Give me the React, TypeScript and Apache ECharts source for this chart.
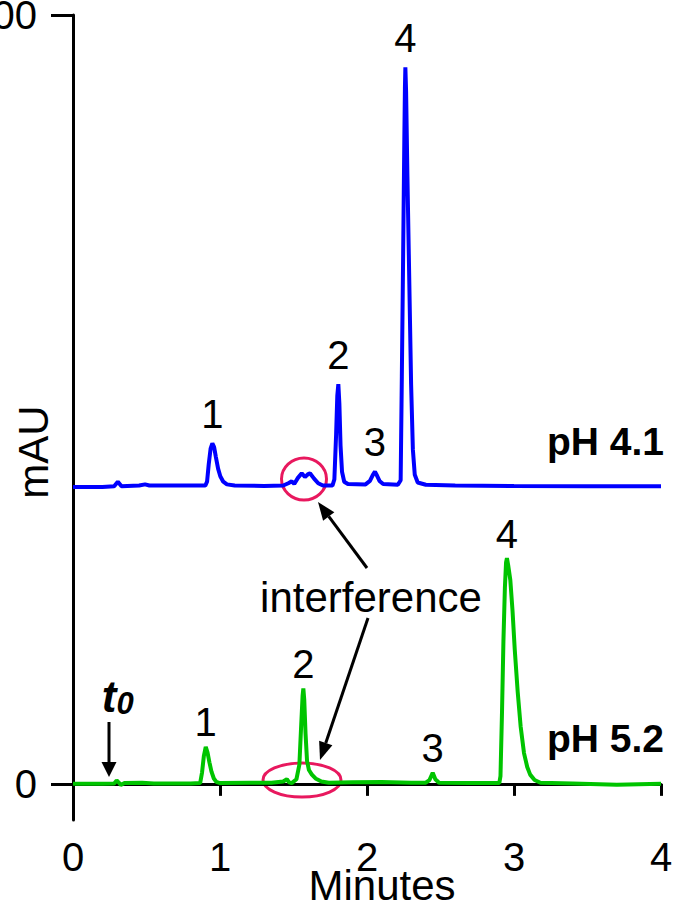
import React, { useEffect, useRef } from "react";
import * as echarts from "echarts";

// Chromatogram traces: [minutes, mAU]
const ph41Trace: [number, number][] = [
  [0.0, 38.6], [0.2, 38.6], [0.28, 38.7], [0.305, 39.3], [0.33, 38.7],
  [0.45, 38.8], [0.49, 38.95], [0.52, 38.8], [0.7, 38.8], [0.9, 38.8],
  [0.912, 39.3], [0.923, 41.5], [0.936, 43.6], [0.948, 44.3], [0.96, 43.8],
  [0.972, 42.5], [0.987, 41.0], [1.002, 40.0], [1.022, 39.3], [1.047, 38.95],
  [1.1, 38.8], [1.3, 38.75], [1.43, 38.8], [1.465, 39.1], [1.488, 39.35],
  [1.505, 39.0], [1.53, 39.8], [1.556, 40.4], [1.578, 39.9], [1.6, 40.3],
  [1.612, 40.4], [1.64, 39.7], [1.668, 39.1], [1.7, 38.8], [1.765, 38.8],
  [1.778, 39.6], [1.79, 45.5], [1.798, 50.5], [1.805, 52.0], [1.812, 49.5],
  [1.82, 44.0], [1.83, 40.6], [1.845, 39.3], [1.87, 39.0], [1.99, 38.95],
  [2.02, 39.4], [2.04, 40.2], [2.054, 40.6], [2.068, 40.1], [2.085, 39.4],
  [2.11, 39.0], [2.21, 38.9], [2.229, 39.5], [2.237, 53.0], [2.246, 69.0],
  [2.254, 84.0], [2.258, 90.5], [2.261, 93.2], [2.266, 90.0], [2.275, 79.0],
  [2.288, 65.0], [2.3, 52.0], [2.312, 43.5], [2.325, 40.2], [2.345, 39.2],
  [2.4, 38.9], [2.6, 38.8], [3.0, 38.75], [3.5, 38.7], [4.0, 38.7],
];

const ph52Trace: [number, number][] = [
  [0.0, 0.0], [0.2, 0.0], [0.28, 0.05], [0.297, 0.45], [0.31, 0.2],
  [0.325, -0.15], [0.35, 0.1], [0.47, 0.15], [0.55, 0.05], [0.8, 0.05],
  [0.865, 0.1], [0.878, 1.5], [0.89, 3.6], [0.903, 4.8], [0.915, 4.1],
  [0.928, 2.8], [0.942, 1.6], [0.958, 0.7], [0.975, 0.25], [1.0, 0.1],
  [1.2, 0.15], [1.35, 0.15], [1.43, 0.3], [1.455, 0.6], [1.47, 0.2],
  [1.488, 0.1], [1.52, 0.6], [1.54, 2.5], [1.552, 7.5], [1.562, 11.5],
  [1.567, 12.4], [1.573, 11.0], [1.582, 6.5], [1.592, 3.0], [1.605, 1.8],
  [1.625, 1.2], [1.65, 0.7], [1.69, 0.3], [1.74, 0.15], [1.9, 0.2],
  [2.1, 0.25], [2.3, 0.15], [2.4, 0.15], [2.425, 0.5], [2.447, 1.45],
  [2.465, 0.6], [2.49, 0.15], [2.7, 0.1], [2.9, 0.1], [2.908, 1.0],
  [2.918, 9.0], [2.928, 18.5], [2.938, 25.5], [2.946, 28.8], [2.952, 29.35],
  [2.96, 28.5], [2.975, 26.5], [2.99, 22.5], [3.005, 17.5], [3.025, 12.0],
  [3.045, 7.5], [3.068, 4.0], [3.09, 2.2], [3.11, 1.2], [3.14, 0.5],
  [3.18, 0.15], [3.4, 0.05], [3.7, -0.1], [4.0, 0.0],
];

// Approximate retention times of the numbered peaks
const ph41PeakTimes = [0.948, 1.805, 2.054, 2.261];
const ph52PeakTimes = [0.903, 1.567, 2.447, 2.952];
const peakNames = ["1", "2", "3", "4"];

const yTickValues = [0, 100];
const traceNames = ["pH 4.1", "pH 5.2"];

const FONT = '"Liberation Sans", Arial, Helvetica, sans-serif';
const BLUE = "#0000ff";
const GREEN = "#00c400";
const RING = "#e8185e";

// Highest point of a trace close to a given time
function apexNear(trace: [number, number][], t: number): [number, number] {
  let best = trace[0];
  let bestV = -Infinity;
  for (const p of trace) {
    if (Math.abs(p[0] - t) <= 0.04 && p[1] > bestV) {
      best = p;
      bestV = p[1];
    }
  }
  return best;
}

function peakMarks(trace: [number, number][], times: number[], distance: number) {
  return {
    symbol: "circle",
    symbolSize: 1,
    itemStyle: { color: "rgba(0,0,0,0)" },
    silent: true,
    label: {
      show: true,
      position: "top",
      distance,
      formatter: (p: any) => p.name,
      color: "#000",
      fontSize: 40,
      fontFamily: FONT,
    },
    data: times.map((t, i) => ({ name: peakNames[i], coord: apexNear(trace, t) })),
  };
}

function arrow(x1: number, y1: number, x2: number, y2: number, head = 18, half = 7) {
  const dx = x2 - x1;
  const dy = y2 - y1;
  const len = Math.hypot(dx, dy);
  const ux = dx / len;
  const uy = dy / len;
  const bx = x2 - head * ux;
  const by = y2 - head * uy;
  const nx = -uy;
  const ny = ux;
  return [
    { type: "line", shape: { x1, y1, x2: bx, y2: by }, style: { stroke: "#000", lineWidth: 3 } },
    {
      type: "polygon",
      shape: { points: [[x2, y2], [bx + half * nx, by + half * ny], [bx - half * nx, by - half * ny]] },
      style: { fill: "#000" },
    },
  ];
}

function text(x: number, y: number, t: string, extra: any = {}, rotation = 0) {
  return {
    type: "text",
    x,
    y,
    rotation,
    style: {
      text: t,
      fill: "#000",
      fontSize: 42,
      fontFamily: FONT,
      align: "center",
      verticalAlign: "middle",
      ...extra,
    },
  };
}

export default function App() {
  const ref = useRef<HTMLDivElement>(null);

  useEffect(() => {
    if (!ref.current) return;
    const chart = echarts.init(ref.current, undefined, { renderer: "svg" });
    chart.setOption({
      animation: false,
      backgroundColor: "#fff",
      grid: { left: 73, right: 12, top: 15, bottom: 88, containLabel: false, outerBoundsMode: "none" },
      xAxis: {
        type: "value",
        min: 0,
        max: 4,
        interval: 1,
        axisLine: { show: true, lineStyle: { color: "#000", width: 3 } },
        axisTick: { show: true, length: 12, lineStyle: { color: "#000", width: 3 } },
        axisLabel: { color: "#000", fontSize: 40, fontFamily: FONT, margin: 17 },
        splitLine: { show: false },
      },
      yAxis: {
        type: "value",
        min: -4.7,
        max: 100,
        axisLine: { show: true, lineStyle: { color: "#000", width: 3 } },
        axisTick: { show: true, length: 22, customValues: yTickValues, lineStyle: { color: "#000", width: 3 } },
        axisLabel: {
          color: "#000",
          fontSize: 40,
          fontFamily: FONT,
          margin: 36,
          customValues: yTickValues,
          padding: [14, 0, 0, 0],
        },
        splitLine: { show: false },
      },
      series: [
        {
          name: traceNames[0],
          type: "line",
          data: ph41Trace,
          showSymbol: false,
          lineStyle: { color: BLUE, width: 4 },
          itemStyle: { color: BLUE },
          markPoint: peakMarks(ph41Trace, ph41PeakTimes, 9),
        },
        {
          name: traceNames[1],
          type: "line",
          data: ph52Trace,
          showSymbol: false,
          lineStyle: { color: GREEN, width: 4 },
          itemStyle: { color: GREEN },
          markPoint: peakMarks(ph52Trace, ph52PeakTimes, 4),
        },
      ],
      graphic: [
        text(33, 452, "mAU", {}, Math.PI / 2),
        text(382, 885, "Minutes"),
        text(664, 441, traceNames[0], { align: "right", fontWeight: "bold", fontSize: 39 }),
        text(664, 738, traceNames[1], { align: "right", fontWeight: "bold", fontSize: 39 }),
        text(371, 597, "interference"),
        text(109, 696, "t", { fontWeight: "bold", fontStyle: "italic", fontSize: 44 }),
        text(125, 703, "0", { fontWeight: "bold", fontStyle: "italic", fontSize: 31 }),
        ...arrow(367, 568, 318, 502),
        ...arrow(368, 618, 320, 760),
        ...arrow(109, 722, 109, 777, 15, 7.5),
        {
          type: "ellipse",
          shape: { cx: 304, cy: 479, rx: 22.5, ry: 21 },
          style: { fill: "none", stroke: RING, lineWidth: 3 },
        },
        {
          type: "ellipse",
          shape: { cx: 302, cy: 780, rx: 39, ry: 17 },
          style: { fill: "none", stroke: RING, lineWidth: 3 },
        },
      ],
    });
    return () => chart.dispose();
  }, []);

  return (
    <div
      ref={ref}
      style={{ position: "absolute", left: 0, top: 0, width: 673, height: 908 }}
    />
  );
}
